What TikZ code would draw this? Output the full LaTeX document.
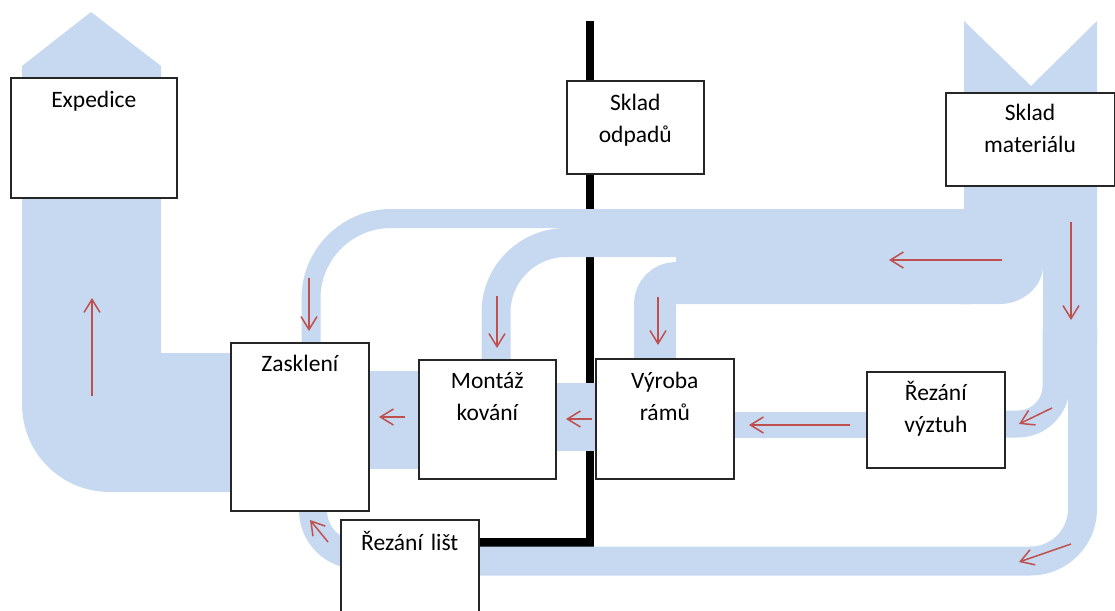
\documentclass[tikz,border=0pt]{standalone}
\usepackage{fontspec}
\setmainfont{Carlito}
\usetikzlibrary{arrows.meta}
\definecolor{flow}{HTML}{C6D9F1}
\definecolor{flowred}{HTML}{C0504D}
\begin{document}
\begin{tikzpicture}[x=1pt,y=-1pt,
  band/.style={draw=flow, line cap=butt, line join=miter},
  wall/.style={draw=black, line width=8.5pt, line join=miter},
  box/.style={draw=black!85, line width=1.6pt, fill=white, inner xsep=0pt, inner ysep=0pt,
    anchor=north west, align=center, font=\fontsize{23.5}{32}\selectfont},
  flowarrow/.style={draw=flowred, line width=1.5pt, -{Straight Barb[length=13pt,width=16pt]}}]
\useasboundingbox (0,0) rectangle (1115,610);

% waste line to the waste store
\draw[wall] (590,21) -- (590,542.5) -- (478,542.5);

% dispatch flow (wide band with arrow head)
\fill[flow] (22,66) -- (91,12) -- (161,66) -- (161,353) -- (235,353) -- (235,492)
  -- (110,492) .. controls (61,492) and (22,453) .. (22,404) -- cycle;

% material intake and distribution junction
\fill[flow] (964,21) -- (1031,86) -- (1097,21) -- (1097,340) -- (1043,340) -- (1043,266)
  .. controls (1043,287) and (1022,304) .. (1000,304) -- (960,304) -- (960,209.5) -- (964,209.5) -- cycle;

% branches from the material store
\draw[band, line width=19pt, rounded corners=80pt] (970,218.5) -- (311,218.5) -- (311,350);
\draw[band, line width=29pt, rounded corners=70pt] (970,242.5) -- (496,242.5) -- (496,365);
\draw[band, line width=42pt, rounded corners=21pt] (970,283) -- (655,283) -- (655,365);
\fill[flow] (676,255) rectangle (1000,265);
\draw[band, line width=27pt, rounded corners=38pt] (1056,330) -- (1056,424) -- (995,424);
\draw[band, line width=29pt, rounded corners=52pt] (1082.5,330) -- (1082.5,561) -- (470,561);
\draw[band, line width=28pt] (313,505) -- (313,510) .. controls (313,535) and (333,555) .. (358,555) -- (365,555);

% links between neighbouring workplaces
\fill[flow] (365,371) rectangle (421,469);
\fill[flow] (552,383) rectangle (598,451);
\fill[flow] (730,412) rectangle (869,438);

% workplaces
\node[box, text width=166pt, text height=30pt, text depth=90pt] (exped) at (10,77) {Expedice};
\node[box, text width=137pt, text height=30pt, text depth=63pt] (odpad) at (566,80) {Sklad\\odpadů};
\node[box, text width=168.5pt, text height=28pt, text depth=65pt] (mater) at (945,92) {Sklad\\materiálu};
\node[box, text width=138pt, text height=29pt, text depth=139pt] (zaskl) at (230,342) {Zasklení};
\node[box, text width=137pt, text height=29pt, text depth=90pt] (montaz) at (418,359) {Montáž\\kování};
\node[box, text width=138pt, text height=30pt, text depth=90pt] (vyroba) at (595,358) {Výroba\\rámů};
\node[box, text width=138pt, text height=29pt, text depth=67pt] (vyztuh) at (866,371) {Řezání\\výztuh};
\node[box, text width=138pt, text height=31pt, text depth=70pt] (listy) at (340,519) {Řezání lišt};

% direction of flow
\draw[flowarrow] (92,396) -- (92,298);
\draw[flowarrow] (309,278) -- (309,331);
\draw[flowarrow] (497,296) -- (497,348);
\draw[flowarrow] (658,297) -- (658,345);
\draw[flowarrow] (1002,260) -- (889,260);
\draw[flowarrow] (1071,222) -- (1071,320);
\draw[flowarrow] (1052,408) -- (1019,424);
\draw[flowarrow] (1071,544) -- (1019,562);
\draw[flowarrow] (328,542) -- (310,520);
\draw[flowarrow] (850,425) -- (749,425);
\draw[flowarrow] (405,417) -- (379,417);
\draw[flowarrow] (592,419) -- (566,419);
\end{tikzpicture}
\end{document}
